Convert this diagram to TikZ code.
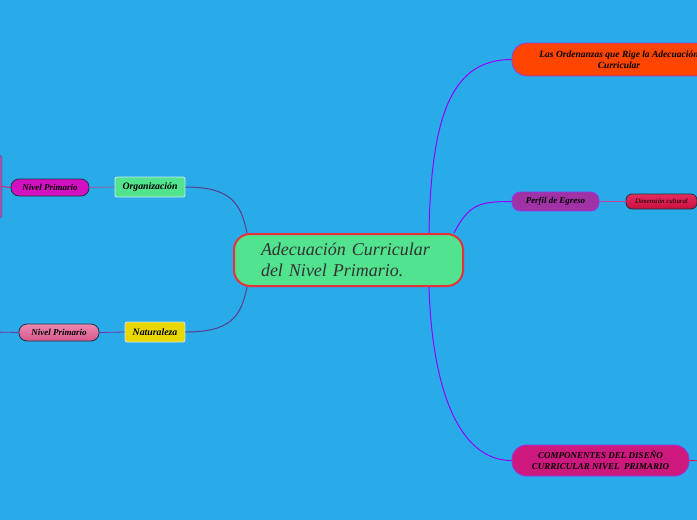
\documentclass[tikz,border=0pt]{standalone}
\usepackage{fontspec}
\setmainfont{Liberation Serif}
\usetikzlibrary{positioning}

\definecolor{bgblue}{RGB}{41,171,234}
\definecolor{mintgreen}{RGB}{82,227,143}
\definecolor{centerred}{RGB}{232,48,58}
\definecolor{linkpurple}{RGB}{90,60,140}
\definecolor{linkviolet}{RGB}{150,0,255}
\definecolor{boxviolet}{RGB}{140,60,240}
\definecolor{darkedge}{RGB}{25,50,70}
\definecolor{magentabox}{RGB}{212,17,192}
\definecolor{purplebox}{RGB}{158,85,175}
\definecolor{yellowbox}{RGB}{232,216,0}
\definecolor{orangebox}{RGB}{255,69,0}
\definecolor{perfilbox}{RGB}{160,50,165}
\definecolor{compbox}{RGB}{205,25,125}
\definecolor{pinktop}{RGB}{238,135,175}
\definecolor{pinkbottom}{RGB}{215,88,140}
\definecolor{crimsontop}{RGB}{232,45,95}
\definecolor{crimsonbottom}{RGB}{200,15,60}

\begin{document}
\begin{tikzpicture}[x=1pt,y=-1pt,
		topic/.style={rectangle, rounded corners=2pt, inner sep=0pt, line width=0.8pt, draw=white!75!bgblue, font=\fontsize{9.8}{11}\selectfont\bfseries\itshape},
		pill/.style={rectangle, rounded corners=8pt, inner sep=0pt, line width=0.8pt, draw=darkedge, font=\fontsize{9}{11}\selectfont\bfseries\itshape},
		branch/.style={rectangle, rounded corners=14pt, inner sep=0pt, line width=0.8pt, draw=boxviolet, align=center, font=\fontsize{9.5}{11}\selectfont\bfseries\itshape},
		curve/.style={line width=1pt}]
				\clip (0,0) rectangle (697,520);
				\fill[bgblue] (0,0) rectangle (697,520);
				
				% central topic
				\node[rectangle, rounded corners=16pt, fill=mintgreen, draw=centerred, line width=2pt, minimum height=52pt, inner xsep=27pt, text width=175pt, align=left, text=black!80, font=\fontsize{18}{21}\selectfont\itshape] (cen) at (348.5,260) {Adecuación Curricular\\del Nivel Primario.};
				
				% left side
				\node[topic, fill=mintgreen, minimum width=70pt, minimum height=20pt] (org) at (150,187) {Organización};
				\node[pill, fill=magentabox, minimum width=78pt, minimum height=17pt] (np1) at (50,187.5) {Nivel Primario};
				\node[rectangle, rounded corners=3pt, fill=purplebox, draw=purplebox!70!black, minimum width=84pt, minimum height=63pt] (lbox) at (-40,186.5) {};
				\node[topic, fill=yellowbox, minimum width=60pt, minimum height=20pt] (nat) at (155,332) {Naturaleza};
				\node[pill, top color=pinktop, bottom color=pinkbottom, minimum width=80pt, minimum height=17pt] (np2) at (59,332.5) {Nivel Primario};
				\coordinate (lft) at (-5,332);
				
				% right side
				\node[branch, fill=orangebox, minimum width=214pt, minimum height=33pt, rounded corners=15pt] (ord) at (619,59.5) {Las Ordenanzas que Rige la Adecuación\\Curricular};
				\node[branch, fill=perfilbox, minimum width=87pt, minimum height=19pt, rounded corners=8pt, font=\fontsize{8.9}{11}\selectfont\bfseries\itshape] (perf) at (555.5,201.5) {Perfil de Egreso};
				\node[pill, top color=crimsontop, bottom color=crimsonbottom, rounded corners=6pt, minimum width=71pt, minimum height=15pt, font=\fontsize{6.8}{8}\selectfont\itshape] (dim) at (661.5,201.5) {Dimensión cultural};
				\node[branch, fill=compbox, minimum width=177pt, minimum height=31pt, font=\fontsize{9}{11}\selectfont\bfseries\itshape] (comp) at (600.5,460.5) {COMPONENTES DEL DISEÑO\\CURRICULAR NIVEL\ \ PRIMARIO};
				\coordinate (rgt) at (705,461);
				
				% connectors
				\draw[curve, linkpurple] (org.east) .. controls +(45,0) and +(-6,-30) .. ([xshift=14pt]cen.north west);
				\draw[curve, linkpurple] (nat.east) .. controls +(45,0) and +(-6,30) .. ([xshift=14pt]cen.south west);
				\draw[line width=0.8pt, red!70!magenta] (lbox.east) -- (np1.west);
				\draw[line width=0.8pt, purplebox!80!gray] (np1.east) -- (org.west);
				\draw[line width=0.8pt, linkpurple!80!magenta] (lft) -- (np2.west);
				\draw[line width=0.8pt, linkpurple!80!magenta] (np2.east) -- (nat.west);
				\draw[curve, linkviolet] ([xshift=-35pt]cen.north east) .. controls +(2,-124) and +(-57,0) .. (ord.west);
				\draw[curve, linkviolet] ([xshift=-10pt]cen.north east) .. controls +(15,-29) and +(-32,0) .. (perf.west);
				\draw[curve, linkviolet] ([xshift=-35pt]cen.south east) .. controls +(3,99) and +(-54,0) .. (comp.west);
				\draw[line width=0.8pt, magenta!60!purplebox] (perf.east) -- (dim.west);
				\draw[line width=0.8pt, red!80!magenta] (comp.east) -- (rgt);
			\end{tikzpicture}
\end{document}
